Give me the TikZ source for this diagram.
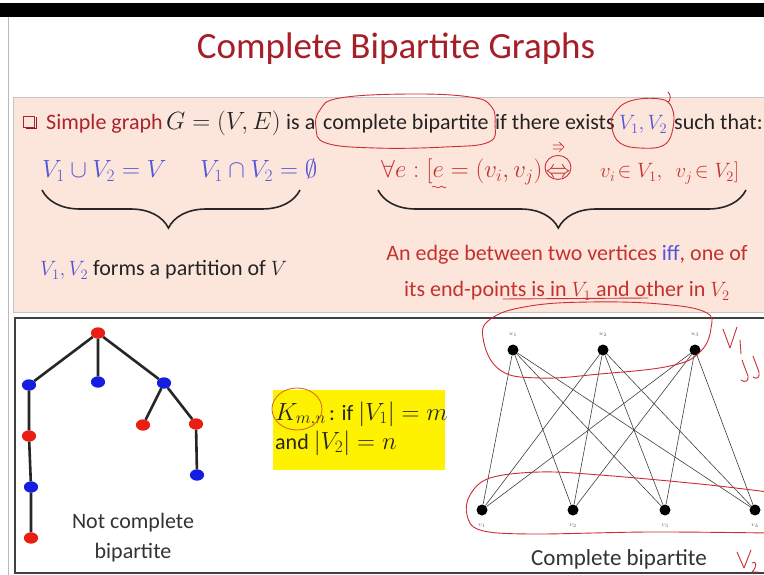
\documentclass[tikz,border=0pt]{standalone}
\usepackage{amssymb}
\usepackage{fontspec}
\setmainfont{Carlito}
\usetikzlibrary{decorations.pathreplacing,shapes.geometric}
\definecolor{titlered}{RGB}{165,30,40}
\definecolor{darkred}{RGB}{170,35,45}
\definecolor{mathblue}{RGB}{85,85,215}
\definecolor{rowred}{RGB}{195,50,45}
\definecolor{pinkfill}{RGB}{252,230,220}
\definecolor{textdark}{RGB}{35,35,35}
\definecolor{handred}{RGB}{205,45,55}
\definecolor{treered}{RGB}{235,30,20}
\definecolor{treeblue}{RGB}{20,30,225}
\definecolor{handorange}{RGB}{215,110,30}
\begin{document}
\begin{tikzpicture}[x=1pt,y=-1pt,
  every node/.style={inner sep=0pt},
  tx/.style={anchor=base west, font=\fontsize{22}{26}\selectfont, text=textdark},
  mx/.style={anchor=base west, font=\fontsize{25}{28}\selectfont, text=textdark},
  hand/.style={draw=handred, line width=0.9pt, line cap=round, line join=round},
  bracestyle/.style={decorate, decoration={brace, amplitude=38pt, aspect=#1}, line width=1.6pt, black!85},
  treeedge/.style={line width=2.6pt, black!85},
  rv/.style={ellipse, fill=treered, minimum width=14pt, minimum height=11pt},
  bv/.style={ellipse, fill=treeblue, minimum width=14pt, minimum height=11pt},
  kv/.style={circle, fill=black, minimum size=11pt},
  kedge/.style={line width=0.6pt, black!75},
  lbl/.style={font=\fontsize{6}{7}\selectfont, text=black!60},
]
\useasboundingbox (0,0) rectangle (764,575);
\fill[white] (0,0) rectangle (764,575);
\fill[black] (0,3) rectangle (764,17);
\draw[gray!55, line width=1pt] (8,17) -- (8,575);
% boxes
\filldraw[fill=pinkfill, draw=gray!45, line width=0.8pt] (13,97) rectangle (775,312);
\draw[black!75, line width=1.6pt] (15,318) rectangle (775,573);
% title
\node[font=\fontsize{37}{40}\selectfont, text=titlered] (title) at (396,49) {Complete Bipartite Graphs};
% row 1
\node[draw=darkred, line width=1.3pt, minimum size=11pt] (bullet) at (29,122) {};
\draw[darkred!80!black, line width=1.2pt] (bullet.north east) ++(1.5,1.5) -- ++(0,11) -- ++(-11,0);
\node[tx, text=darkred] (simple) at (46,130) {Simple graph};
\node[mx] (geq) at (166,130) {$G = (V, E)$};
\node[tx] (isa) at (286,130) {is a};
\node[tx] (cb) at (323,130) {complete bipartite};
\node[tx] (ifthere) at (495,130) {if there exists};
\node[tx, text=mathblue] (v1v2) at (619,130) {$V_1, V_2$};
\node[tx] (such) at (674,130) {such that:};
% row 2
\node[mx, text=mathblue] (union) at (42,178) {$V_1 \cup V_2 = V$};
\node[mx, text=mathblue] (inter) at (200,178) {$V_1 \cap V_2 = \emptyset$};
\node[mx, text=rowred] (forallA) at (381,178) {$\forall e : [e = \bigl(v_i, v_j\bigr)$};
\node[mx, text=rowred, anchor=base] (iffsym) at (558,178) {$\Leftrightarrow$};
\node[tx, text=rowred] (forallB) at (600,178) {$v_i\!\in V_1,\ \ v_j\!\in V_2]$};
% braces
\coordinate (b1r) at (300,190);
\coordinate (b1l) at (42,190);
\coordinate (b2r) at (746,190);
\coordinate (b2l) at (378,190);
\draw[bracestyle=0.51] (b1r) -- (b1l);
\draw[bracestyle=0.51] (b2r) -- (b2l);
\node[tx] (partition) at (40,276) {{\color{mathblue}$V_1, V_2$} forms a partition of $V$};
\node[tx, anchor=base, text=rowred] (edge1) at (567,261) {An edge between two vertices {\color{mathblue}iff}, one of};
\node[tx, anchor=base, text=rowred] (edge2) at (567,297) {its end-points is in $V_1$ and other in $V_2$};
% hand annotations top
\draw[hand] plot[smooth cycle, tension=0.7] coordinates {(320,110) (340,98) (410,94) (470,97) (491,106) (495,124) (489,142) (445,147) (375,148) (326,143) (316,128)};
\draw[hand] plot[smooth cycle, tension=0.7] coordinates {(614,114) (630,101) (660,99) (672,108) (673,128) (664,145) (640,148) (620,143) (612,128)};
\draw[hand] (668,103) .. controls (671,99) and (671,95) .. (668,92);
\draw[hand] (iffsym.center) ++(0,-6) ellipse [x radius=13, y radius=12];
\draw[hand, line width=0.7pt] (553,145) -- (562,145) (553,149) -- (562,149) (559,142) -- (564,147) -- (559,152);
\draw[hand, line width=0.7pt] (432,187) .. controls (435,184) and (437,190) .. (440,187) .. controls (442,184) and (444,190) .. (446,187);
\draw[hand] (503,299) -- (648,298);
% bottom box: tree
\node[rv] (t0) at (98,333) {};
\node[bv] (t1) at (29,385) {};
\node[bv] (t2) at (98,382) {};
\node[bv] (t3) at (164,383) {};
\node[rv] (t4) at (29,436) {};
\node[bv] (t5) at (31,487) {};
\node[rv] (t6) at (31,538) {};
\node[rv] (t7) at (143,425) {};
\node[rv] (t8) at (196,424) {};
\node[bv] (t9) at (197,475) {};
\draw[treeedge] (t0) -- (t1) (t0) -- (t2) (t0) -- (t3) (t1) -- (t4) (t4) -- (t5) (t5) -- (t6) (t3) -- (t7) (t3) -- (t8) (t8) -- (t9);
\foreach \n/\c in {t0/treered,t1/treeblue,t2/treeblue,t3/treeblue,t4/treered,t5/treeblue,t6/treered,t7/treered,t8/treered,t9/treeblue}
  \fill[\c] (\n) ellipse [x radius=7, y radius=5.5];
\node[tx, anchor=base, text=black!80] (nc1) at (133,528) {Not complete};
\node[tx, anchor=base, text=black!80] (nc2) at (133,558) {bipartite};
% yellow box
\node[fill=yellow, minimum width=172pt, minimum height=80pt] (ybox) at (359,430) {};
\node[tx, text=black!85] (kline1) at (275,420) {{\fontsize{25}{28}\selectfont$K_{m,n}$}\kern3pt: if {\fontsize{25}{28}\selectfont$|V_1| = m$}};
\node[tx, text=black!85] (kline2) at (275,449) {and {\fontsize{25}{28}\selectfont$|V_2| = n$}};
\draw[draw=handorange, line width=0.9pt] (297,409) ellipse [x radius=25, y radius=21];
% complete bipartite
\node[kv] (u1) at (513,350) {};
\node[kv] (u2) at (603,350) {};
\node[kv] (u3) at (695,350) {};
\node[kv] (v1) at (482,510) {};
\node[kv] (v2) at (573,510) {};
\node[kv] (v3) at (665,510) {};
\node[kv] (v4) at (755,510) {};
\foreach \u in {u1,u2,u3}
  \foreach \v in {v1,v2,v3,v4}
    \draw[kedge] (\u) -- (\v);
\node[lbl] (lu1) at (513,335) {$u_1$};
\node[lbl] (lu2) at (603,335) {$u_2$};
\node[lbl] (lu3) at (695,335) {$u_3$};
\node[lbl] (lv1) at (482,526) {$v_1$};
\node[lbl] (lv2) at (573,526) {$v_2$};
\node[lbl] (lv3) at (665,526) {$v_3$};
\node[lbl] (lv4) at (755,526) {$v_4$};
\node[tx, anchor=base, text=black!80, font=\fontsize{23}{26}\selectfont] (cbl) at (619,565) {Complete bipartite};
% hand annotations bottom
\draw[hand] plot[smooth cycle, tension=0.7] coordinates {(483,338) (492,318) (530,306) (590,302) (660,304) (705,312) (711,328) (700,352) (670,366) (600,374) (540,378) (500,370)};
\draw[hand] plot[smooth, tension=0.6] coordinates {(768,492) (700,484) (600,475) (540,472) (490,478) (470,495) (467,515) (480,530) (530,534) (650,532) (768,533)};
\draw[hand] (723,329) -- (730,348) -- (737,327);
\draw[hand] (740,340) -- (741,354);
\draw[hand] (742,360) -- (748,376) .. controls (749,381) and (745,383) .. (741,380);
\draw[hand] (753,356) -- (759,372) .. controls (760,377) and (757,380) .. (753,377);
\draw[hand] (737,552) -- (744,568) -- (751,550);
\draw[hand] (752,563) .. controls (756,560) and (758,566) .. (752,572) -- (758,572);
\end{tikzpicture}
\end{document}
